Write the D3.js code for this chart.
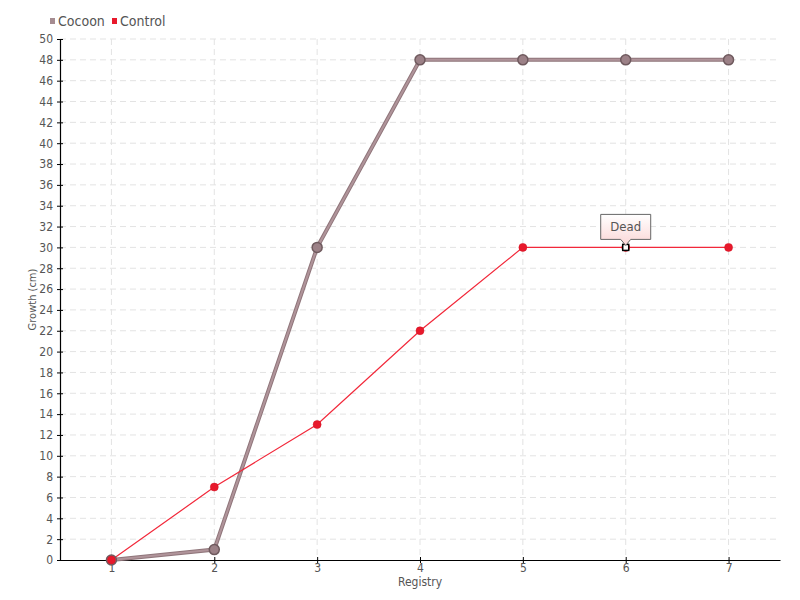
<!DOCTYPE html>
<html>
<head>
<meta charset="utf-8">
<script src="https://cdn.jsdelivr.net/npm/d3@7"></script>
<style>
  body { margin: 0; background: #fff; }
  svg { font-family: "DejaVu Sans Condensed", "Liberation Sans Narrow", sans-serif; }
</style>
</head>
<body>
<svg id="chart" width="800" height="600"></svg>
<script>
// data
var registry = [1, 2, 3, 4, 5, 6, 7];
var cocoon = [0, 1, 30, 48, 48, 48, 48];
var control = [0, 7, 13, 22, 30, 30, 30];
var yTicks = d3.range(0, 51, 2);
var note = { series: "control", index: 5, text: "Dead" };

var svg = d3.select("#chart");
var plotLeft = 60, plotRight = 780, plotTop = 39, plotBottom = 560;

var x = d3.scaleLinear().domain([0.5, 7.5]).range([plotLeft, plotRight]);
var y = d3.scaleLinear().domain([0, 50]).range([plotBottom, plotTop]);

// grid
var grid = svg.append("g").attr("stroke", "#e3e3e3").attr("stroke-dasharray", "6,4");
grid.selectAll(".hg").data(yTicks.filter(function(d) { return d > 0; }))
  .enter().append("line")
  .attr("x1", plotLeft).attr("x2", plotRight)
  .attr("y1", function(d) { return y(d); }).attr("y2", function(d) { return y(d); });
grid.selectAll(".vg").data(registry)
  .enter().append("line")
  .attr("y1", plotTop).attr("y2", plotBottom)
  .attr("x1", function(d) { return x(d); }).attr("x2", function(d) { return x(d); });

// axes
var yAxis = svg.append("g")
  .attr("transform", "translate(" + plotLeft + ",0)")
  .call(d3.axisLeft(y).tickValues(yTicks).tickFormat(d3.format("d"))
    .tickSizeInner(3).tickSizeOuter(0).tickPadding(4));
yAxis.selectAll(".tick line").attr("x1", 3).attr("x2", -3);
var xAxis = svg.append("g")
  .attr("transform", "translate(0," + plotBottom + ")")
  .call(d3.axisBottom(x).tickValues(registry).tickFormat(d3.format("d"))
    .tickSizeInner(3).tickSizeOuter(0).tickPadding(0));
xAxis.selectAll(".tick line").attr("y1", -3).attr("y2", 3);
svg.selectAll(".domain").attr("stroke", "#000").attr("stroke-width", 1.2);
svg.selectAll(".tick line").attr("stroke", "#000");
svg.selectAll(".tick text").attr("fill", "#555").style("font-size", "12px")
  .style("font-family", "\"DejaVu Sans Condensed\", sans-serif");

// axis titles
svg.append("text")
  .attr("x", (plotLeft + plotRight) / 2).attr("y", 586)
  .attr("text-anchor", "middle").attr("fill", "#555").style("font-size", "12px")
  .text("Registry");
svg.append("text")
  .attr("transform", "translate(36," + ((plotTop + plotBottom) / 2) + ") rotate(-90)")
  .attr("text-anchor", "middle").attr("fill", "#555").style("font-size", "11px")
  .text("Growth (cm)");

var line = d3.line()
  .x(function(d, i) { return x(registry[i]); })
  .y(function(d) { return y(d); });

// cocoon series
svg.append("path").datum(cocoon).attr("d", line)
  .attr("fill", "none").attr("stroke", "#8f757a").attr("stroke-width", 4);
svg.append("path").datum(cocoon).attr("d", line)
  .attr("fill", "none").attr("stroke", "#b0949a").attr("stroke-width", 2);

// control series
svg.append("path").datum(control).attr("d", line)
  .attr("fill", "none").attr("stroke", "#f2283a").attr("stroke-width", 1.2);

svg.selectAll(".cc").data(cocoon).enter().append("circle")
  .attr("cx", function(d, i) { return x(registry[i]); })
  .attr("cy", function(d) { return y(d); })
  .attr("r", 5)
  .attr("fill", "#9c8187").attr("stroke", "#6f5a5e").attr("stroke-width", 1.5);

svg.selectAll(".ct").data(control).enter().append("circle")
  .attr("cx", function(d, i) { return x(registry[i]); })
  .attr("cy", function(d) { return y(d); })
  .attr("r", 4)
  .attr("fill", "#e8192c").attr("stroke", "#d01020").attr("stroke-width", 0.5);

// highlighted point with note
var nx = x(registry[note.index]), ny = y(control[note.index]);
svg.append("rect")
  .attr("x", nx - 3).attr("y", ny - 3).attr("width", 6).attr("height", 6)
  .attr("fill", "#fff").attr("stroke", "#000").attr("stroke-width", 1.5);

var defs = svg.append("defs");
var grad = defs.append("linearGradient").attr("id", "tipGrad")
  .attr("x1", 0).attr("y1", 0).attr("x2", 0).attr("y2", 1);
grad.append("stop").attr("offset", "0%").attr("stop-color", "#ffffff");
grad.append("stop").attr("offset", "100%").attr("stop-color", "#fbd6d6");

var bw = 50, bh = 25, bx = nx - 25, by = ny - 33;
var tipPath = "M" + bx + "," + by +
  "h" + bw + "v" + bh + "h" + (-(bw / 2) + 5) +
  "l-5,6l-5,-6" + "h" + (-(bw / 2) + 5) + "z";
svg.append("path").attr("d", tipPath)
  .attr("fill", "url(#tipGrad)").attr("stroke", "#666").attr("stroke-width", 1);
svg.append("text")
  .attr("x", nx).attr("y", by + 17)
  .attr("text-anchor", "middle").attr("fill", "#555").style("font-size", "13px")
  .text(note.text);

// legend
var legendItems = [
  { name: "Cocoon", color: "#a58c91", x: 50 },
  { name: "Control", color: "#e8192c", x: 112 }
];
var lg = svg.selectAll(".lg").data(legendItems).enter().append("g")
  .attr("transform", function(d) { return "translate(" + d.x + ",0)"; });
lg.append("rect").attr("x", 0).attr("y", 18).attr("width", 5).attr("height", 6)
  .attr("fill", function(d) { return d.color; });
lg.append("text").attr("x", 8).attr("y", 26)
  .attr("fill", "#555").style("font-size", "14px")
  .text(function(d) { return d.name; });
</script>
</body>
</html>
